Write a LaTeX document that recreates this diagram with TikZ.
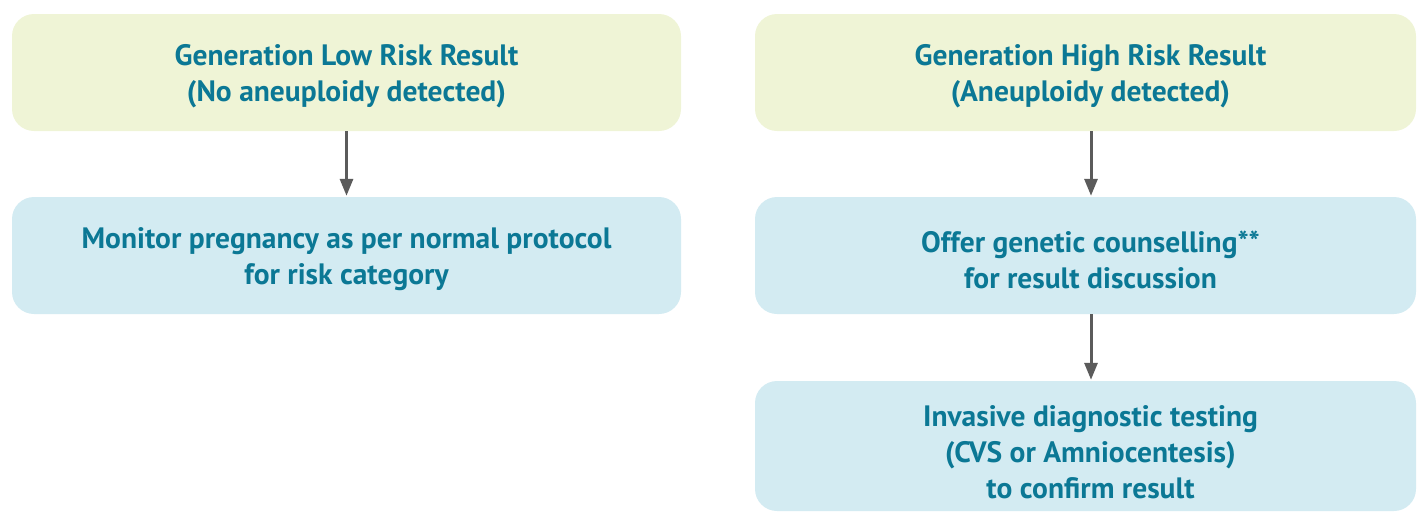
\documentclass[tikz,border=0pt]{standalone}
\usepackage{fontspec}
\setmainfont{PT Sans}
\usetikzlibrary{arrows.meta}
\definecolor{boxyellow}{HTML}{EFF4D6}
\definecolor{boxblue}{HTML}{D3EBF2}
\definecolor{txtteal}{HTML}{0B7895}
\definecolor{arrgray}{HTML}{5B5B5B}
\tikzset{
  flowbox/.style={rounded corners=22pt, minimum width=669pt, minimum height=117pt, inner sep=0pt},
  resultbox/.style={flowbox, fill=boxyellow},
  actionbox/.style={flowbox, fill=boxblue},
  boxtext/.style={align=center, text=txtteal, inner sep=0pt,
    font=\fontsize{29.5}{36}\selectfont\bfseries},
  flowarrow/.style={draw=arrgray, line width=3pt, -{Triangle[length=17pt,width=13pt]}, shorten >=1pt}
}
\begin{document}
\begin{tikzpicture}[x=1pt,y=-1pt]
\useasboundingbox (0,0) rectangle (1417,512);
\node[resultbox] (low) at (346.5,72.5) {};
\node[actionbox] (monitor) at (346.5,255.5) {};
\node[resultbox, minimum width=661pt] (high) at (1085.5,72.5) {};
\node[actionbox, minimum width=661pt] (offer) at (1085.5,255.5) {};
\node[actionbox, minimum width=661pt, minimum height=130pt] (invasive) at (1085.5,446) {};
\node[boxtext] (lowtext) at ([yshift=-4pt]low.center) {Generation Low Risk Result\\(No aneuploidy detected)};
\node[boxtext] (monitortext) at ([yshift=-4pt]monitor.center) {Monitor pregnancy as per normal protocol\\for risk category};
\node[boxtext] (hightext) at ([xshift=5pt,yshift=-4pt]high.center) {Generation High Risk Result\\(Aneuploidy detected)};
\node[boxtext] (offertext) at ([xshift=5pt,yshift=-4pt]offer.center) {Offer genetic counselling**\\for result discussion};
\node[boxtext] (invasivetext) at ([xshift=5pt,yshift=-6pt]invasive.center) {Invasive diagnostic testing\\(CVS or Amniocentesis)\\to confirm result};
\draw[flowarrow] (low.south) -- (monitor.north);
\draw[flowarrow] ([xshift=5.5pt]high.south) -- ([xshift=5.5pt]offer.north);
\draw[flowarrow] ([xshift=5.5pt]offer.south) -- ([xshift=5.5pt]invasive.north);
\end{tikzpicture}
\end{document}
